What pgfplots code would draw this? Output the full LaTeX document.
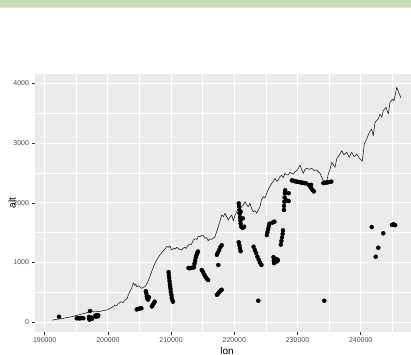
\documentclass[border=0pt]{standalone}
\usepackage{pgfplots}
\pgfplotsset{compat=1.18}
\usepackage{fontspec}
\setmainfont{Liberation Sans}

\definecolor{panel}{HTML}{EBEBEB}
\definecolor{ticktext}{HTML}{4D4D4D}
\definecolor{tickmark}{HTML}{333333}
\definecolor{band}{HTML}{C5E0B4}
\definecolor{bandedge}{HTML}{D6E9CA}

% elevation profile along the route
\pgfplotstableread{
lon alt
191203 38
192200 55
193212 72
194300 95
195316 122
196300 150
197168 177
197500 195
197700 170
198000 190
198481 177
199200 195
199810 206
200500 240
201123 290
201400 280
201600 310
202073 345
202400 330
202706 373
203000 390
203228 457
203500 520
203766 569
204019 663
204250 620
204400 640
204557 596
204900 610
205348 569
205600 585
205870 596
206200 650
206646 763
207000 870
207437 987
207800 1060
208228 1126
208600 1180
209019 1222
209300 1270
209557 1255
209800 1280
210095 1210
210500 1240
210700 1225
210886 1255
211300 1225
211677 1210
211900 1240
212199 1255
212400 1235
212600 1280
212991 1310
213200 1300
213513 1377
213900 1400
214100 1385
214304 1444
214600 1430
214842 1461
215100 1450
215364 1406
215600 1420
215886 1366
216100 1395
216424 1389
216700 1410
216946 1433
217468 1600
218006 1796
218300 1770
218528 1824
219051 1712
219300 1760
219589 1796
219842 1700
220100 1790
220380 1851
220650 1820
220902 1900
221200 1940
221424 1963
221693 2018
222000 1960
222215 1935
222484 1991
222750 1900
223006 1851
223300 1870
223544 1824
224066 1935
224300 2050
224589 2102
224850 2080
225127 2159
225500 2250
225918 2326
226200 2360
226440 2410
226700 2360
226962 2382
227250 2440
227500 2465
227750 2420
228022 2494
228300 2470
228544 2465
228800 2510
229082 2494
229350 2480
229604 2521
229900 2540
230127 2577
230396 2633
230650 2560
230918 2494
231200 2560
231456 2577
231850 2560
232247 2577
232650 2540
233038 2549
233300 2520
233560 2494
234082 2370
234620 2360
234873 2482
235150 2560
235411 2678
235933 2594
236202 2733
236725 2817
236994 2872
237358 2805
237785 2845
238196 2762
238576 2845
238987 2772
239367 2817
239889 2733
240253 2694
240569 2984
240949 3068
241361 3180
241741 3235
241994 3123
242263 3347
242785 3403
243054 3486
243323 3431
243576 3541
244003 3598
244367 3486
244636 3682
245063 3737
245269 3709
245696 3933
246107 3821
246376 3754
}\profile

% recorded positions
\pgfplotstableread{
lon alt
192263 94
195063 67
195300 70
195550 65
195800 72
196107 68
197168 189
197000 90
197050 60
197100 45
197400 80
197500 60
198000 110
198200 120
198400 100
198480 115
198100 95
204560 215
204800 225
205050 230
205300 235
206000 520
206100 480
206150 440
206200 400
206350 380
206500 420
206950 265
207100 290
207250 320
207400 345
209600 840
209650 790
209700 740
209750 690
209800 640
209850 600
209900 560
209950 510
210050 460
210100 410
210200 370
210300 345
212750 910
212950 905
213150 910
213350 915
213600 920
213700 980
213800 1030
213900 1080
214000 1120
214150 1160
214250 1185
214850 875
215050 840
215250 800
215450 760
215650 730
215850 708
217250 1130
217400 1170
217600 1210
217800 1260
218000 1290
217468 959
217250 460
217450 480
217650 510
217850 535
218000 545
220700 1990
220750 1940
220800 1880
220850 1820
220900 1760
220950 1700
221000 1650
221100 1600
221300 1580
221550 1600
221350 1740
221000 1850
220700 1340
220800 1290
220900 1240
221000 1190
223050 1265
223250 1210
223450 1160
223650 1100
223850 1050
224050 1000
224300 960
223797 361
225150 1460
225250 1510
225350 1560
225450 1610
225550 1650
226050 1670
226350 1685
226200 1090
226250 1030
226300 990
226700 1060
226750 1020
226900 1040
227700 1540
227650 1480
227550 1420
227450 1360
227350 1300
227850 1880
227880 1950
227920 2020
227960 2090
228000 2160
228050 2210
228600 2160
228600 2030
228300 2040
229100 2375
229350 2370
229600 2360
229850 2355
230100 2350
230350 2345
230600 2340
230850 2335
231100 2330
231350 2325
231800 2300
232000 2270
232200 2240
232400 2210
232600 2190
232150 2300
234100 2330
234350 2335
234600 2340
234850 2345
235100 2350
235350 2355
234240 361
241741 1595
243576 1490
242785 1249
242373 1098
244950 1630
245200 1640
245450 1625
}\fixes

\begin{document}
\begin{tikzpicture}[x=1bp,y=1bp]
\path[use as bounding box] (0,0) rectangle (411,355);
\fill[band] (0,348) rectangle (411,355);
\draw[bandedge, line width=1bp] (0,347.5) -- (411,347.5);
\begin{axis}[
  at={(35bp,23bp)}, anchor=south west,
  scale only axis, width=376bp, height=258bp,
  xmin=188465, xmax=247959, ymin=-162, ymax=4156,
  axis background/.style={fill=panel},
  axis line style={draw=none},
  grid=both,
  major grid style={white, line width=0.9pt},
  minor grid style={white, line width=0.45pt},
  xtick={190000,200000,210000,220000,230000,240000},
  minor xtick={195000,205000,215000,225000,235000,245000},
  ytick={0,1000,2000,3000,4000},
  minor ytick={500,1500,2500,3500},
  tick align=outside,
  major tick length=2.5bp, minor tick length=0pt,
  tick style={tickmark, line width=0.5pt},
  xtick pos=bottom, ytick pos=left,
  scaled x ticks=false, scaled y ticks=false,
  /pgf/number format/.cd, fixed, 1000 sep={}, assume math mode=true,
  /pgfplots/.cd,
  ticklabel style={font=\fontsize{7}{8}\selectfont, text=ticktext},
  xlabel={lon}, ylabel={alt},
  label style={font=\fontsize{8.5}{10}\selectfont},
  every axis x label/.style={at={(rel axis cs:0.5106,0)}, anchor=center, yshift=-18.5bp},
  every axis y label/.style={at={(rel axis cs:0,0.5)}, xshift=-23bp, anchor=center, rotate=90},
]
\addplot[black!85, line width=0.6pt, line join=round] table[x=lon, y=alt] {\profile};
\addplot[only marks, mark=*, mark size=2bp, mark options={fill=black, draw=black}] table[x=lon, y=alt] {\fixes};
\end{axis}
\end{tikzpicture}
\end{document}
